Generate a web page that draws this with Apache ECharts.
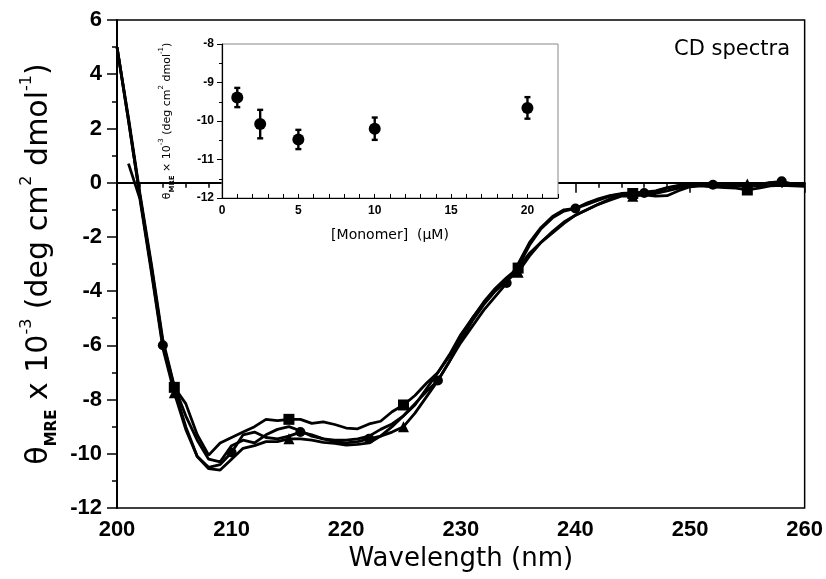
<!DOCTYPE html>
<html><head><meta charset="utf-8">
<script src="https://cdn.jsdelivr.net/npm/echarts@6/dist/echarts.min.js"></script>
<style>html,body{margin:0;padding:0;background:#fff}#c{width:826px;height:579px}</style>
</head><body><div id="c"></div>
<script>
// Main CD spectra: wavelength (nm) and four spectra (theta x 10^-3)
const wavelengths = [200,201,202,203,204,205,206,207,208,209,210,211,212,213,214,215,216,217,218,219,220,221,222,223,224,225,226,227,228,229,230,231,232,233,234,235,236,237,238,239,240,241,242,243,244,245,246,247,248,249,250,251,252,253,254,255,256,257,258,259,260];
const circleSpec = [5.0,2.3,-0.5,-3.2,-6.0,-7.6,-9.0,-10.1,-10.5,-10.4,-9.95,-9.3,-9.2,-9.4,-9.45,-9.35,-9.2,-9.3,-9.45,-9.55,-9.6,-9.55,-9.45,-9.35,-9.0,-8.6,-8.15,-7.7,-7.3,-6.6,-5.9,-5.3,-4.7,-4.2,-3.7,-3.0,-2.2,-1.65,-1.25,-1.0,-0.95,-0.8,-0.65,-0.5,-0.42,-0.4,-0.38,-0.33,-0.2,-0.12,-0.08,-0.08,-0.08,-0.12,-0.1,-0.15,-0.1,0.0,0.05,-0.05,-0.05];
const squareSpec = [5.0,2.3,-0.5,-3.1,-5.9,-7.55,-8.15,-9.3,-10.05,-9.6,-9.4,-9.2,-9.0,-8.73,-8.78,-8.73,-8.73,-8.88,-8.82,-8.92,-9.05,-9.08,-8.9,-8.8,-8.45,-8.2,-7.85,-7.4,-7.0,-6.35,-5.6,-5.0,-4.4,-3.9,-3.5,-3.15,-2.6,-2.2,-1.85,-1.5,-1.2,-1.0,-0.8,-0.6,-0.45,-0.4,-0.45,-0.5,-0.48,-0.3,-0.15,-0.12,-0.15,-0.18,-0.2,-0.27,-0.2,-0.12,-0.1,-0.12,-0.14];
const triangleSpec = [null,0.7,-0.6,-3.3,-6.1,-7.75,-9.1,-10.1,-10.55,-10.6,-10.2,-9.8,-9.7,-9.55,-9.55,-9.45,-9.45,-9.5,-9.58,-9.62,-9.68,-9.65,-9.6,-9.35,-9.2,-9.0,-8.5,-7.9,-7.3,-6.6,-5.8,-5.1,-4.5,-4.0,-3.6,-3.3,-2.7,-2.2,-1.8,-1.45,-1.2,-1.0,-0.8,-0.65,-0.5,-0.5,-0.45,-0.4,-0.3,-0.2,-0.12,-0.1,-0.15,-0.12,-0.08,-0.05,-0.12,-0.1,-0.05,-0.1,-0.1];
const plainSpec = [5.0,2.4,-0.4,-3.0,-5.8,-7.5,-8.6,-9.5,-10.2,-10.3,-9.7,-9.5,-9.6,-9.3,-9.1,-9.0,-9.15,-9.35,-9.45,-9.5,-9.5,-9.45,-9.35,-9.1,-8.9,-8.6,-8.2,-7.6,-7.0,-6.4,-5.7,-5.0,-4.45,-3.95,-3.6,-3.1,-2.3,-1.7,-1.3,-1.05,-0.95,-0.75,-0.6,-0.48,-0.4,-0.38,-0.35,-0.3,-0.18,-0.1,-0.08,-0.1,-0.12,-0.1,-0.12,-0.1,-0.05,0.0,-0.02,-0.05,-0.05];
const circleMarks = [204,210,216,222,228,234,240,246,252,258];
const squareMarks = [205,215,225,235,245,255];
const triangleMarks = [205,215,225,235,245,255];
// Inset: monomer concentration (uM), mean theta and error
const monomer = [1,2.5,5,10,20];
const insetTheta = [-9.39,-10.08,-10.48,-10.2,-9.66];
const insetErr = [0.25,0.37,0.25,0.29,0.28];
const xTicks = [200,210,220,230,240,250,260];
const yTicks = [-12,-10,-8,-6,-4,-2,0,2,4,6];

function build(vals, marks, sym, size){
  const out = [];
  wavelengths.forEach((w,i)=>{
    if (vals[i] === null) return;
    const on = marks.indexOf(w) >= 0;
    out.push(on ? {value:[w, vals[i]], symbol:sym, symbolSize:size} : {value:[w, vals[i]], symbol:'none'});
  });
  return out;
}
const lineStyle = {color:'#000', width:2.8};
function lineSeries(data){
  return {type:'line', xAxisIndex:0, yAxisIndex:0, data:data, showSymbol:true, showAllSymbol:true,
    lineStyle:lineStyle, itemStyle:{color:'#000', opacity:1}, animation:false, z:3};
}
const font = 'DejaVu Sans';
const chart = echarts.init(document.getElementById('c'), null, {renderer:'canvas'});
chart.setOption({
  animation:false,
  backgroundColor:'#fff',
  grid:[
    {left:117, top:20, right:20, bottom:71, show:true, borderColor:'#000', borderWidth:1.5, backgroundColor:'transparent'},
    {left:222, top:44, right:268, bottom:381, show:true, borderColor:'#888', borderWidth:1, backgroundColor:'#fff', z:5}
  ],
  xAxis:[
    {gridIndex:0, type:'value', min:200, max:260, interval:10,
     axisLine:{lineStyle:{color:'#000', width:2}},
     axisTick:{length:10, lineStyle:{color:'#000', width:1.5}},
     minorTick:{show:true, splitNumber:5, length:5, lineStyle:{color:'#000', width:1.5}},
     splitLine:{show:false},
     axisLabel:{margin:11, color:'#000', fontFamily:'Liberation Sans', fontWeight:'bold', fontSize:22},
     name:'Wavelength (nm)', nameLocation:'middle', nameGap:38,
     nameTextStyle:{fontFamily:font, fontSize:26, color:'#000'}},
    {gridIndex:1, type:'value', min:0, max:22, interval:1, z:6,
     axisLine:{lineStyle:{color:'#000', width:1.2}},
     axisTick:{inside:true, length:4, lineStyle:{color:'#000', width:1}},
     splitLine:{show:false},
     axisLabel:{margin:7, color:'#000', fontFamily:'Liberation Sans', fontWeight:'bold', fontSize:12,
       formatter:function(v){return (v%5===0)? String(v):'';}},
     name:'[Monomer]  (\u03bcM)', nameLocation:'middle', nameGap:30,
     nameTextStyle:{fontFamily:font, fontSize:14, color:'#000'}}
  ],
  yAxis:[
    {gridIndex:0, type:'value', min:-12, max:6, interval:2,
     axisLine:{lineStyle:{color:'#000', width:2}},
     axisTick:{length:10, lineStyle:{color:'#000', width:1.5}},
     minorTick:{show:true, splitNumber:2, length:5, lineStyle:{color:'#000', width:1.5}},
     splitLine:{show:false},
     axisLabel:{margin:15, color:'#000', fontFamily:'Liberation Sans', fontWeight:'bold', fontSize:22},
     name:'{t|\u03b8}{sub|MRE}{t| x 10}{sup|-3}{t| (deg cm}{sup|2}{t| dmol}{sup|-1}{t|)}',
     nameLocation:'middle', nameGap:53, nameRotate:90,
     nameTextStyle:{color:'#000', rich:{
       t:{fontFamily:font, fontSize:30, color:'#000', lineHeight:40, verticalAlign:'middle'},
       sub:{fontFamily:font, fontSize:15, fontWeight:'bold', color:'#000', lineHeight:40, verticalAlign:'bottom'},
       sup:{fontFamily:font, fontSize:16, color:'#000', lineHeight:40, verticalAlign:'top'}}}},
    {gridIndex:1, type:'value', min:-12, max:-8, interval:1, z:6,
     axisLine:{lineStyle:{color:'#000', width:1.2}},
     axisTick:{length:5, lineStyle:{color:'#000', width:1}},
     minorTick:{show:true, splitNumber:2, length:3, lineStyle:{color:'#000', width:1}},
     splitLine:{show:false},
     axisLabel:{margin:8, color:'#000', fontFamily:'Liberation Sans', fontWeight:'bold', fontSize:12},
     name:'{t|\u03b8}{sub|MRE}{t| \u00d7 10}{sup|-3}{t| (deg cm}{sup|2}{t| dmol}{sup|-1}{t|)}',
     nameLocation:'middle', nameGap:46, nameRotate:90,
     nameTextStyle:{color:'#000', rich:{
       t:{fontFamily:font, fontSize:11, color:'#000', lineHeight:18, verticalAlign:'middle'},
       sub:{fontFamily:font, fontSize:7, fontWeight:'bold', color:'#000', lineHeight:18, verticalAlign:'bottom'},
       sup:{fontFamily:font, fontSize:7, color:'#000', lineHeight:18, verticalAlign:'top'}}}}
  ],
  title:{text:'CD spectra', right:31, top:34, textStyle:{fontFamily:font, fontSize:21, fontWeight:'normal', color:'#000'}},
  series:[
    lineSeries(build(plainSpec, [], 'none', 0)),
    lineSeries(build(triangleSpec, triangleMarks, 'triangle', 11)),
    lineSeries(build(squareSpec, squareMarks, 'rect', 11)),
    lineSeries(build(circleSpec, circleMarks, 'circle', 10)),
    {type:'custom', xAxisIndex:1, yAxisIndex:1, z:7,
     data: monomer.map((m,i)=>[m, insetTheta[i]-insetErr[i], insetTheta[i]+insetErr[i]]),
     renderItem:function(params, api){
       const lo = api.coord([api.value(0), api.value(1)]);
       const hi = api.coord([api.value(0), api.value(2)]);
       const cap = 3;
       const st = {stroke:'#000', lineWidth:2.4};
       return {type:'group', children:[
         {type:'line', shape:{x1:lo[0], y1:lo[1], x2:hi[0], y2:hi[1]}, style:st},
         {type:'line', shape:{x1:lo[0]-cap, y1:lo[1], x2:lo[0]+cap, y2:lo[1]}, style:st},
         {type:'line', shape:{x1:hi[0]-cap, y1:hi[1], x2:hi[0]+cap, y2:hi[1]}, style:st}
       ]};
     }},
    {type:'scatter', xAxisIndex:1, yAxisIndex:1, z:8, symbol:'circle', symbolSize:12,
     itemStyle:{color:'#000', opacity:1}, data: monomer.map((m,i)=>[m, insetTheta[i]])}
  ]
});
</script></body></html>
